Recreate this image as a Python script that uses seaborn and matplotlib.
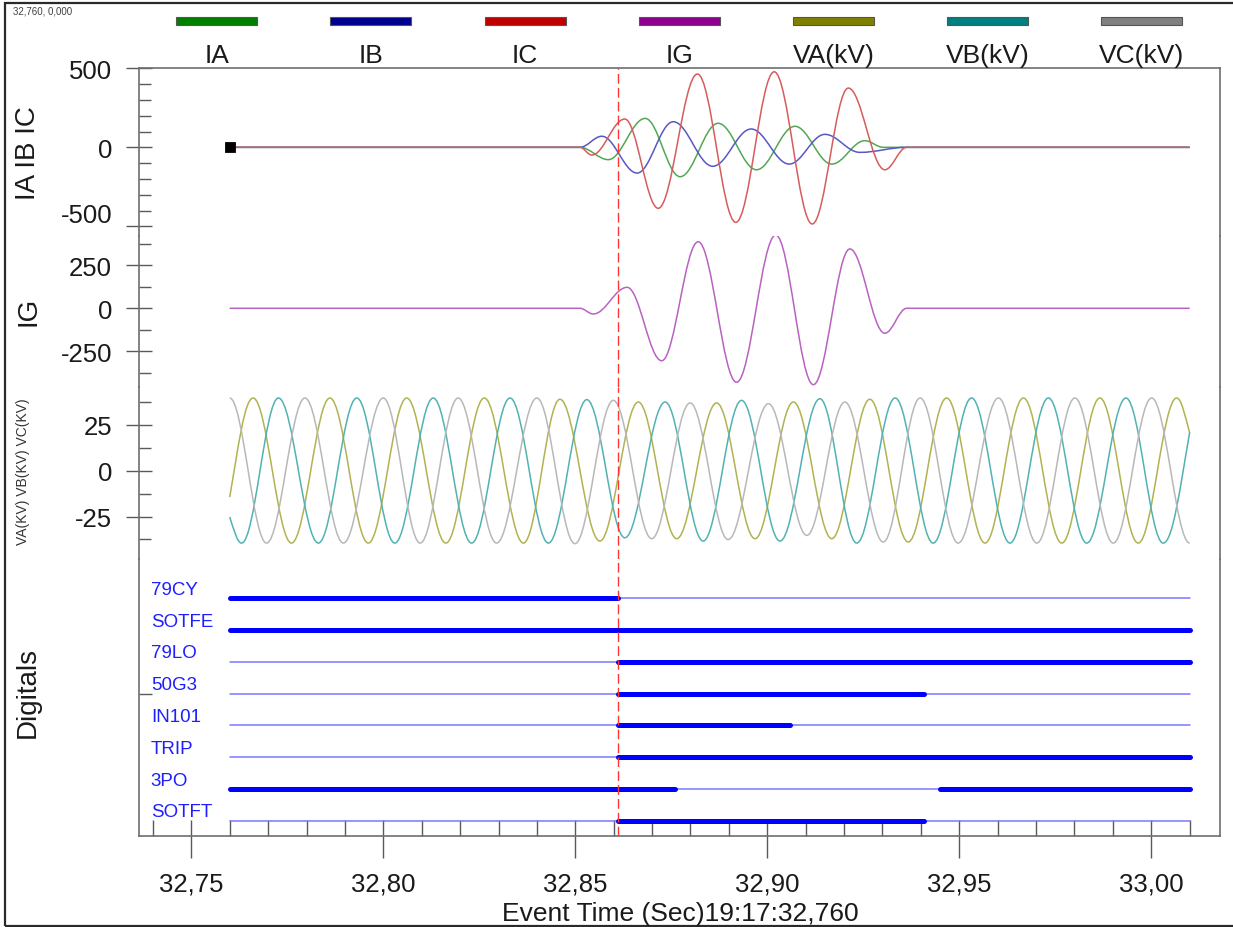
import numpy as np
import pandas as pd
import matplotlib
matplotlib.use('Agg')
import matplotlib.pyplot as plt
import matplotlib.transforms as mtransforms
import seaborn as sns
from matplotlib.path import Path
from matplotlib.patches import PathPatch, Rectangle
from matplotlib.ticker import FixedLocator, FixedFormatter

sns.set_theme(style='white')
plt.rcParams['font.family'] = ['Liberation Sans', 'DejaVu Sans']
plt.rcParams['axes.unicode_minus'] = False

# legend channels
series_names = ['IA', 'IB', 'IC', 'IG', 'VA(kV)', 'VB(kV)', 'VC(kV)']
series_colors = ['#008000', '#000090', '#c00000', '#900090', '#808000', '#008080', '#808080']
# the traces themselves are drawn in lighter tints
trace_colors = ['#52a852', '#5858c4', '#d65c5c', '#b862c2', '#b2b252', '#52b2b2', '#b8b8b8']

# currents: turning points (time s, amps)
ia_t = [32.76, 32.8512, 32.8586, 32.8682, 32.8773, 32.8872, 32.8972, 32.9072, 32.9168, 32.9254, 32.9302, 33.01]
ia_v = [0, 0, -78, 183, -186, 152, -142, 133, -106, 42, 0, 0]
ib_t = [32.76, 32.8512, 32.8569, 32.8661, 32.8755, 32.8858, 32.8958, 32.9057, 32.9150, 32.9241, 32.9363, 33.01]
ib_v = [0, 0, 70, -163, 162, -120, 116, -106, 82, -32, 0, 0]
ic_t = [32.76, 32.8512, 32.8543, 32.8629, 32.8716, 32.8818, 32.8918, 32.9018, 32.9117, 32.9211, 32.9306, 32.9363, 33.01]
ic_v = [0, 0, -49, 179, -386, 464, -475, 478, -485, 375, -142, 0, 0]
ig_t = [32.76, 32.8512, 32.8547, 32.8635, 32.8725, 32.8820, 32.8920, 32.9022, 32.9120, 32.9215, 32.9306, 32.9363, 33.01]
ig_v = [0, 0, -33, 122, -305, 387, -430, 426, -444, 345, -145, 0, 0]

# voltages: peaks / troughs (time s, kV)
va_t = [32.7600, 32.7661, 32.7761, 32.7861, 32.7961, 32.8061, 32.8163, 32.8263, 32.8365, 32.8460,
        32.8564, 32.8664, 32.8764, 32.8868, 32.8968, 32.9068, 32.9168, 32.9267, 32.9367, 32.9467,
        32.9567, 32.9667, 32.9767, 32.9866, 32.9966, 33.0066, 33.0100]
va_v = [-14.4, 39.7, -39.5, 39.7, -39.5, 39.7, -39.5, 39.7, -39.5, 39.0,
        -38.4, 37.5, -37.1, 37.0, -37.1, 37.5, -37.1, 39.0, -38.9, 39.7,
        -39.5, 39.7, -39.5, 39.7, -39.5, 39.7, 20.6]
vb_t = [32.7600, 32.7631, 32.7727, 32.7831, 32.7931, 32.8030, 32.8130, 32.8230, 32.8330, 32.8430,
        32.8530, 32.8629, 32.8734, 32.8833, 32.8933, 32.9033, 32.9137, 32.9233, 32.9333, 32.9432,
        32.9532, 32.9632, 32.9732, 32.9832, 32.9934, 33.0031, 33.0100]
vb_v = [-25.3, -39.5, 39.7, -39.5, 39.7, -39.5, 39.7, -39.5, 39.7, -39.5,
        38.8, -36.6, 37.5, -38.4, 38.4, -38.4, 39.3, -39.5, 39.7, -39.5,
        39.7, -39.5, 39.7, -39.5, 39.7, -39.5, 21.0]
vc_t = [32.7600, 32.7696, 32.7796, 32.7896, 32.8000, 32.8096, 32.8195, 32.8295, 32.8400, 32.8499,
        32.8599, 32.8699, 32.8799, 32.8898, 32.9003, 32.9103, 32.9202, 32.9302, 32.9398, 32.9497,
        32.9602, 32.9702, 32.9801, 32.9901, 33.0001, 33.0100]
vc_v = [39.7, -39.5, 39.7, -39.5, 39.7, -39.5, 39.7, -39.5, 39.7, -39.8,
        38.4, -37.1, 37.0, -37.6, 36.6, -35.3, 37.5, -38.9, 39.7, -39.5,
        39.7, -39.5, 39.7, -39.5, 39.7, -39.5]

# digital channels: change times and state of each interval
digital_names = ['79CY', 'SOTFE', '79LO', '50G3', 'IN101', 'TRIP', '3PO', 'SOTFT']
digital_times = [
    [32.76, 32.861, 33.01],
    [32.76, 33.01],
    [32.76, 32.861, 33.01],
    [32.76, 32.861, 32.9407, 33.01],
    [32.76, 32.861, 32.9058, 33.01],
    [32.76, 32.861, 33.01],
    [32.76, 32.8759, 32.9449, 33.01],
    [32.76, 32.861, 32.9407, 33.01],
]
digital_states = [[1, 0], [1], [0, 1], [0, 1, 0], [0, 1, 0], [0, 1], [1, 0, 1], [0, 1, 0]]

fault_time = 32.861
marker_t = [32.76]
marker_v = [0]

x_major = [32.75, 32.80, 32.85, 32.90, 32.95, 33.00]
x_labels = ['32,75', '32,80', '32,85', '32,90', '32,95', '33,00']
x_minor = [round(32.74 + 0.01 * i, 2) for i in range(28)]
ia_ticks, ia_minor = [-500, 0, 500], [-400, -300, -200, -100, 100, 200, 300, 400]
ig_ticks, ig_minor = [-250, 0, 250], [-375, -125, 125, 375]
v_ticks, v_minor = [-25, 0, 25], [-37.5, -12.5, 12.5, 37.5]


def smooth_path(ts, vs, free_ends=False, k=0.364):
    # cubic segments with flat tangents at each turning point
    verts = [(ts[0], vs[0])]
    codes = [Path.MOVETO]
    last = len(ts) - 2
    for i in range(len(ts) - 1):
        t0, v0, t1, v1 = ts[i], vs[i], ts[i + 1], vs[i + 1]
        dt = t1 - t0
        lead = 0.5 * (v1 - v0) if (free_ends and i == 0) else 0.0
        tail = 0.5 * (v1 - v0) if (free_ends and i == last) else 0.0
        verts += [(t0 + k * dt, v0 + lead), (t1 - k * dt, v1 - tail), (t1, v1)]
        codes += [Path.CURVE4] * 3
    return Path(verts, codes)


W, H = 1233, 928
fig = plt.figure(figsize=(W / 100, H / 100), dpi=100)
fig.patch.set_facecolor('white')

left_px, right_px = 139.3, 1220
panels_px = [(69.3, 236.5), (236.5, 388), (388, 560), (560, 837.3)]
ylims = [(-558, 500), (-457.6, 423.3), (-48.2, 45.7), (7.49, -1.237)]
xlim = (32.736458, 33.017891)

axes = []
for (top, bot), yl in zip(panels_px, ylims):
    ax = fig.add_axes([left_px / W, 1 - bot / H, (right_px - left_px) / W, (bot - top) / H])
    ax.set_facecolor('none')
    axes.append(ax)
ax1, ax2, ax3, ax4 = axes

spine_c = '#6e6e6e'
tick_c = '#5a5a5a'
for i, ax in enumerate(axes):
    for s in ['top', 'bottom', 'left', 'right']:
        ax.spines[s].set_color(spine_c)
        ax.spines[s].set_linewidth(1.2)
    ax.spines['top'].set_visible(i == 0)
    ax.spines['bottom'].set_visible(i == 3)

# current channels (IC last so the flat part shows red)
for ts, vs, col in [(ia_t, ia_v, trace_colors[0]), (ib_t, ib_v, trace_colors[1]),
                    (ic_t, ic_v, trace_colors[2])]:
    ax1.add_patch(PathPatch(smooth_path(ts, vs), fill=False, edgecolor=col, lw=1.1, zorder=2))
sns.scatterplot(x=marker_t, y=marker_v, ax=ax1, marker='s', s=55, color='black',
                edgecolor='black', zorder=5, legend=False)

ax2.add_patch(PathPatch(smooth_path(ig_t, ig_v), fill=False, edgecolor=trace_colors[3],
                        lw=1.1, zorder=2))

for ts, vs, col, free in [(va_t, va_v, trace_colors[4], True), (vb_t, vb_v, trace_colors[5], True),
                          (vc_t, vc_v, trace_colors[6], False)]:
    ax3.add_patch(PathPatch(smooth_path(ts, vs, free_ends=free), fill=False, edgecolor=col,
                            lw=1.1, zorder=2))

# digitals
rows = []
for i, (times, states) in enumerate(zip(digital_times, digital_states)):
    for j, st in enumerate(states):
        lvl = 'on' if st else 'off'
        rows.append({'t': times[j], 'row': i, 'seg': f'{i}-{j}', 'level': lvl})
        rows.append({'t': times[j + 1], 'row': i, 'seg': f'{i}-{j}', 'level': lvl})
dig = pd.DataFrame(rows)
sns.lineplot(data=dig, x='t', y='row', units='seg', estimator=None, hue='level',
             hue_order=['off', 'on'], palette={'off': '#7878ff', 'on': '#0000ff'},
             size='level', size_order=['off', 'on'], sizes={'off': 1.1, 'on': 3.6},
             legend=False, sort=False, solid_capstyle='round', ax=ax4)
ax4.set_xlabel('')
ax4.set_ylabel('')
lab_tr = ax4.get_yaxis_transform()
for i, name in enumerate(digital_names):
    ax4.text(0.0106, i - 0.14, name, transform=lab_tr, fontsize=13.5, color='#1e1eff',
             va='baseline', ha='left')

for ax in axes:
    ax.axvline(fault_time, color='#ff3535', lw=1.0, ls=(0, (7, 3)), zorder=4)

# limits and ticks
for ax, yl in zip(axes, ylims):
    ax.set_xlim(*xlim)
    ax.set_ylim(*yl)
    ax.grid(False)

for ax in axes[:3]:
    ax.tick_params(axis='x', which='both', bottom=False, top=False, labelbottom=False)

for ax, maj, mnr in [(ax1, ia_ticks, ia_minor), (ax2, ig_ticks, ig_minor), (ax3, v_ticks, v_minor)]:
    # the lowest label of the current panel is written separately, a bit higher
    labels = ['' if (ax is ax1 and v == -500) else str(v) for v in maj]
    ax.yaxis.set_major_locator(FixedLocator(maj))
    ax.yaxis.set_major_formatter(FixedFormatter(labels))
    ax.yaxis.set_minor_locator(FixedLocator(mnr))
    ax.tick_params(axis='y', which='major', left=True, right=False, direction='inout', length=18.3,
                   width=1.0, color=tick_c, labelsize=18.5, labelcolor='#1a1a1a', pad=10.5)
    ax.tick_params(axis='y', which='minor', left=True, right=False, direction='in', length=8.4,
                   width=1.0, color=tick_c)

lift = mtransforms.ScaledTranslation(-0.266, 0.14, fig.dpi_scale_trans)
ax1.text(0, ia_ticks[0], str(ia_ticks[0]), transform=ax1.get_yaxis_transform() + lift,
         ha='right', va='center_baseline', fontsize=18.5, color='#1a1a1a')

ax4.yaxis.set_major_locator(FixedLocator([3]))
ax4.yaxis.set_major_formatter(FixedFormatter(['']))
ax4.tick_params(axis='y', which='major', left=True, right=False, direction='in', length=9,
                width=1.0, color=tick_c)

ax4.xaxis.remove_overlapping_locs = False
ax4.xaxis.set_major_locator(FixedLocator(x_major))
ax4.xaxis.set_major_formatter(FixedFormatter(x_labels))
ax4.xaxis.set_minor_locator(FixedLocator(x_minor))
ax4.tick_params(axis='x', which='major', bottom=True, top=False, direction='out', length=15.8,
                width=1.0, color=tick_c, labelsize=18.5, labelcolor='#1a1a1a', pad=9.5)
ax4.tick_params(axis='x', which='minor', bottom=True, top=False, direction='in', length=11.2,
                width=1.0, color=tick_c)

# channel legend across the top
for i, (name, col) in enumerate(zip(series_names, series_colors)):
    cx = 216.7 + 154.2 * i
    fig.patches.append(Rectangle(((cx - 40.5) / W, 1 - 26 / H), 81 / W, 8.3 / H,
                                 transform=fig.transFigure, facecolor=col, edgecolor='#555555', lw=0.8))
    fig.text(cx / W, 1 - 62.7 / H, name, ha='center', va='baseline', fontsize=19, color='#1a1a1a')

# channel titles
fig.text(28 / W, 1 - 153 / H, 'IA IB IC', rotation=90, ha='center', va='center', fontsize=20, color='#1a1a1a')
fig.text(28 / W, 1 - 311 / H, 'IG', rotation=90, ha='center', va='center', fontsize=20, color='#1a1a1a')
fig.text(23 / W, 1 - 472 / H, 'VA(KV) VB(KV) VC(KV)', rotation=90, ha='center', va='center',
         fontsize=10, color='#333333')
fig.text(28 / W, 1 - 693 / H, 'Digitals', rotation=90, ha='center', va='center', fontsize=20, color='#1a1a1a')

fig.text(680 / W, 1 - 921 / H, 'Event Time (Sec)19:17:32,760', ha='center', va='baseline',
         fontsize=19, color='#1a1a1a')
fig.text(12.7 / W, 1 - 14 / H, '32,760, 0,000', ha='left', va='baseline', fontsize=7, color='#404040')

fig.patches.append(Rectangle((5 / W, 1 - 926.5 / H), 1.2, (926.5 - 3.5) / H, transform=fig.transFigure,
                             fill=False, edgecolor='#2a2a2a', lw=1.6))

fig.savefig('out.png', dpi=100)
